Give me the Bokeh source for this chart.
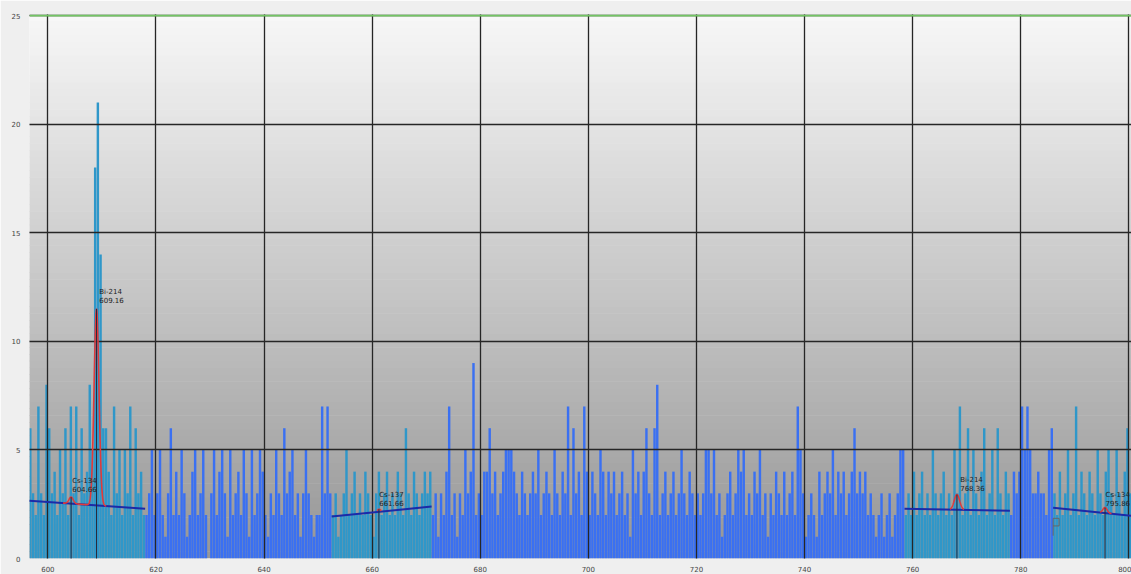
import math
import numpy as np
from bokeh.plotting import figure
from bokeh.models import ColumnDataSource, Label, Span, FixedTicker, BoxAnnotation
from bokeh.embed import file_html
from bokeh.resources import INLINE
from bokeh.core.properties import value

# ---------------- data ----------------
CH_WIDTH = 0.5  # keV per channel
seg_starts = [596.5, 618.0, 652.5, 671.0, 758.5, 778.0, 786.0]
seg_roi = [True, False, True, False, True, False, True]

seg_a = [6, 3, 2, 7, 3, 2, 8, 6, 3, 4, 2, 5, 3, 6, 2, 7, 3, 7, 2, 6, 3, 4,
         8, 5, 18, 21, 14, 6, 6, 4, 2, 7, 3, 5, 2, 5, 3, 7, 2, 6, 3, 4, 2]
seg_b = [2, 3, 5, 2, 3, 5, 2, 1, 3, 6, 2, 4, 2, 5, 3, 1, 2, 4, 5, 2, 3, 5, 2,
         0, 3, 5, 2, 4, 5, 3, 1, 5, 2, 3, 4, 2, 5, 3, 1, 5, 2, 3, 5, 4, 2, 1,
         3, 2, 5, 3, 2, 6, 3, 4, 5, 2, 3, 1, 3, 5, 3, 2, 1, 2, 2, 7, 3, 7, 3]
seg_c = [2, 3, 1, 2, 3, 5, 2, 3, 4, 2, 3, 2, 4, 3, 2, 1, 3, 4, 2, 3, 4, 2, 3,
         2, 4, 3, 2, 6, 3, 2, 4, 3, 2, 3, 4, 3, 4]
seg_d = [2, 3, 1, 3, 2, 4, 7, 2, 3, 1, 3, 2, 5, 3, 4, 9, 2, 3, 2, 4, 4, 6, 3,
         4, 2, 3, 4, 5, 5, 5, 4, 3, 2, 4, 3, 2, 3, 4, 3, 5, 2, 3, 4, 3, 2, 5,
         3, 2, 4, 3, 7, 2, 6, 3, 4, 2, 7,
         4, 2, 4, 3, 2, 5, 4, 2, 4, 3, 4, 2, 3, 4, 2, 3, 1, 5, 3, 4, 2, 4, 6,
         3, 2, 6, 8, 2, 3, 4, 2, 3, 4, 2, 3, 5, 3, 2, 4, 3, 2, 3, 2, 3, 5, 5,
         3, 5, 2, 3, 1, 2, 3, 4, 2, 3, 5, 4, 5, 2, 3, 2, 4, 3, 5, 2, 3, 1, 3,
         2, 4, 3, 2, 4, 2, 3, 4, 2, 7, 5, 3, 1, 2, 3, 2, 1, 4, 2, 3, 4, 3, 5,
         2, 4, 3, 4, 2, 3, 4, 6, 3, 4,
         3, 4, 2, 3, 2, 1, 2, 3, 1, 2, 3, 1, 2, 3, 5, 5]
seg_e = [2, 3, 2, 4, 2, 3, 4, 2, 3, 2, 5, 3, 2, 3, 4, 2, 3, 2, 5, 3, 7, 2, 3,
         6, 2, 5, 3, 2, 4, 6, 2, 3, 5, 2, 6, 3, 2, 4, 3]
seg_f = [2, 4, 3, 4, 7, 5, 7, 5, 3, 3, 4, 3, 3, 2, 5, 6]
seg_g = [3, 2, 4, 2, 3, 5, 2, 3, 7, 2, 4, 3, 2, 4, 3, 2, 5, 3, 2, 4, 5, 3, 2,
         5, 3, 2, 4, 6, 3]
segments = [seg_a, seg_b, seg_c, seg_d, seg_e, seg_f, seg_g]

x_ticks = [600, 620, 640, 660, 680, 700, 720, 740, 760, 780, 800]
y_ticks = [0, 5, 10, 15, 20, 25]

# peaks (nuclide, label energy, drawn centre, height above baseline, sigma)
peak_names = ["Cs-134", "Bi-214", "Cs-137", "Bi-214", "Cs-134"]
peak_energy_text = ["604.66", "609.16", "661.66", "768.36", "795.86"]
peak_centers = [604.3, 609.0, 661.25, 768.2, 795.6]
peak_heights = [0.3, 9.05, 0.12, 0.7, 0.25]
peak_sigmas = [0.4, 0.45, 0.3, 0.5, 0.4]
peak_roi = [0, 0, 1, 2, 3]
label_x = [604.5, 609.5, 661.3, 768.8, 795.7]
label_y = [3.75, 12.45, 3.1, 3.8, 3.1]

# ROI baselines
roi_x0 = [596.6, 652.5, 758.5, 786.0]
roi_x1 = [618.0, 671.0, 778.0, 800.5]
roi_y0 = [2.66, 1.93, 2.29, 2.34]
roi_y1 = [2.29, 2.39, 2.20, 1.97]
fit_lo = [602.8, 660.9, 766.9, 794.7]
fit_hi = [610.8, 661.7, 769.5, 796.8]

# ---------------- figure ----------------
X0, X1 = 596.6, 800.5
Y0, Y1 = 0, 25.05
p = figure(width=1131, height=574, x_range=(X0, X1), y_range=(Y0, Y1),
           output_backend="svg", toolbar_location=None,
           min_border_left=29, min_border_right=0, min_border_top=14,
           min_border_bottom=14, border_fill_color="#efefef",
           background_fill_color="#f5f5f5", outline_line_color=None)

# white strip above the plot area
p.add_layout(BoxAnnotation(left=-29, right=1110, bottom=546, top=570,
                           left_units="screen", right_units="screen",
                           bottom_units="screen", top_units="screen",
                           fill_color="white", fill_alpha=1.0, line_color=None,
                           level="underlay"))

# gradient background bands
nb = 80
edges = np.linspace(Y0, Y1, nb + 1)
cols = []
for k in range(nb):
    t = (edges[k] + edges[k + 1]) / 2 / 25.0
    g = int(round(150 + (247 - 150) * t))
    cols.append("#%02x%02x%02x" % (g, g, g))
p.quad(left=X0 - 1, right=X1 + 1, bottom=edges[:-1], top=edges[1:] + 0.02,
       fill_color=cols, line_color=None, level="image")

# spectrum bars
xs, tops, bcol = [], [], []
for start, roi, vals in zip(seg_starts, seg_roi, segments):
    for k, v in enumerate(vals):
        xs.append(start + CH_WIDTH * (k + 0.5))
        tops.append(v)
        bcol.append("#2f97c9" if roi else "#3a70f2")
src = ColumnDataSource(dict(x=xs, top=tops, color=bcol))
p.vbar(x="x", top="top", bottom=0, width=CH_WIDTH * 0.9, fill_color="color",
       line_color=None, source=src)

# grid above bars
for g in (p.xgrid, p.ygrid):
    g.level = "guide"
    g.grid_line_color = "#262626"
    g.grid_line_width = 1.3
p.xgrid.ticker = FixedTicker(ticks=x_ticks)
p.ygrid.ticker = FixedTicker(ticks=y_ticks)

# baselines and fits
def base_at(r, x):
    return roi_y0[r] + (roi_y1[r] - roi_y0[r]) * (x - roi_x0[r]) / (roi_x1[r] - roi_x0[r])

for r in range(len(roi_x0)):
    p.line([roi_x0[r], roi_x1[r]], [roi_y0[r], roi_y1[r]], line_color="#1c2aa8",
           line_width=2, level="overlay")
    fx = np.linspace(fit_lo[r], fit_hi[r], 200)
    fy = base_at(r, fx)
    for i in range(len(peak_centers)):
        if peak_roi[i] == r:
            fy = fy + peak_heights[i] * np.exp(-0.5 * ((fx - peak_centers[i]) / peak_sigmas[i]) ** 2)
    p.line(fx, fy, line_color="#e03a3a", line_width=1.6, level="overlay")

for i in range(len(peak_centers)):
    r = peak_roi[i]
    ytop = base_at(r, peak_centers[i]) + peak_heights[i]
    p.line([peak_centers[i], peak_centers[i]], [0, ytop], line_color="#2a2a3a",
           line_width=1, level="overlay")

p.text(x=label_x, y=label_y,
       text=[n + "\n" + e for n, e in zip(peak_names, peak_energy_text)],
       text_font=value("DejaVu Sans"), text_font_size="7px", text_color="#222222",
       text_baseline="top", text_align="left", text_line_height=1.1, level="overlay")

# small marker near 786 keV
p.quad(left=[786.0], right=[787.1], bottom=[1.5], top=[1.85], fill_color=None,
       line_color="#666666", line_width=1, level="overlay")
p.line([786.0, 786.0], [1.05, 1.5], line_color="#666666", line_width=1, level="overlay")

# top green line
p.add_layout(Span(location=25.0, dimension="width", line_color="#72c463", line_width=2))

# axes
for ax in (p.xaxis[0], p.yaxis[0]):
    ax.axis_line_color = None
    ax.major_tick_line_color = None
    ax.minor_tick_line_color = None
    ax.major_label_text_font_size = "7px"
    ax.major_label_text_color = "#444444"
    ax.major_label_text_font = "DejaVu Sans"
    ax.major_label_standoff = 3
p.xaxis.ticker = FixedTicker(ticks=x_ticks)
p.yaxis.ticker = FixedTicker(ticks=y_ticks)
p.xaxis.major_label_standoff = 1

# axis titles (frame-relative screen units)
p.add_layout(Label(x=-16, y=276, x_units="screen", y_units="screen", text="Counts",
                   angle=math.pi / 2, text_font_size="7px", text_color="#444444",
                   text_align="center", text_baseline="middle"))
p.add_layout(Label(x=556, y=-7.5, x_units="screen", y_units="screen",
                   text="エネルギー(keV)", text_font="Noto Sans CJK JP",
                   text_font_size="6px", text_color="#444444",
                   text_align="center", text_baseline="top"))

open("out.html", "w").write(file_html(p, INLINE))
